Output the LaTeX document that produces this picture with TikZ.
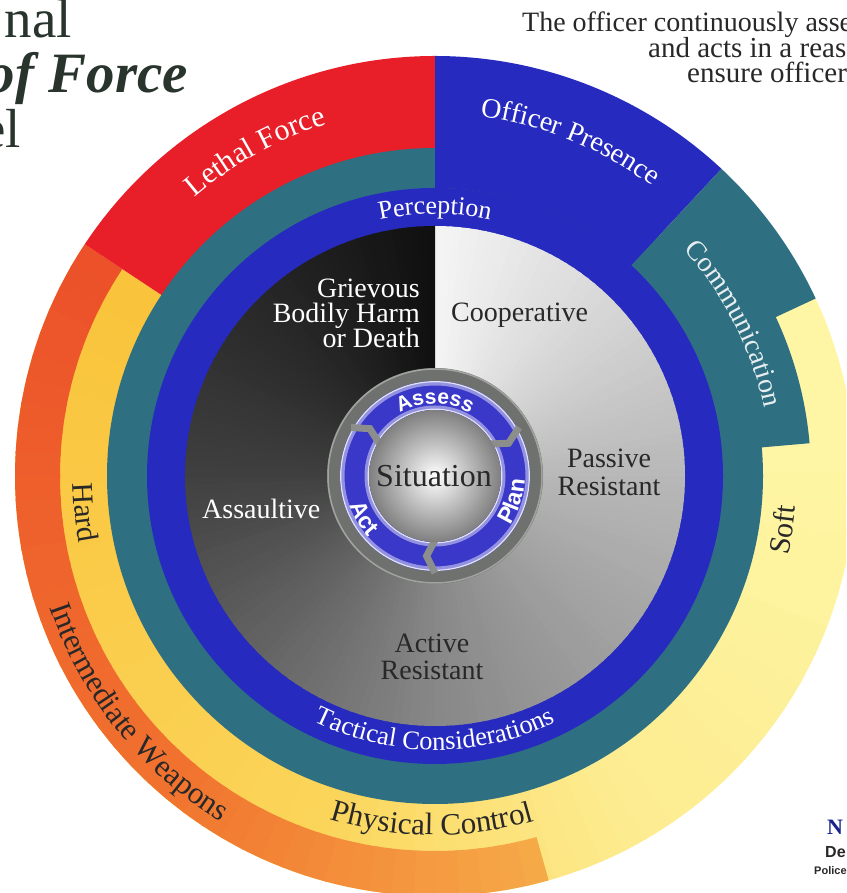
\documentclass[tikz,border=0pt]{standalone}
\usepackage{fontspec}
\setmainfont{Liberation Serif}
\newfontfamily\sansbold{Liberation Sans}
\usetikzlibrary{decorations.text}

\definecolor{ringred}{RGB}{232,30,40}
\definecolor{ringblue}{RGB}{38,42,190}
\definecolor{ringteal}{RGB}{46,112,130}
\definecolor{orA}{RGB}{236,80,42}
\definecolor{orB}{RGB}{241,115,46}
\definecolor{orC}{RGB}{246,170,72}
\definecolor{yeA}{RGB}{249,195,58}
\definecolor{yeB}{RGB}{251,212,88}
\definecolor{yeC}{RGB}{253,236,145}
\definecolor{yeD}{RGB}{254,246,165}
\definecolor{titlegray}{RGB}{40,52,44}
\definecolor{textgray}{RGB}{40,40,40}
\definecolor{navy}{RGB}{25,35,140}
\definecolor{sitblue}{RGB}{58,56,200}
\definecolor{sitgray}{RGB}{110,113,110}
\definecolor{gapgray}{RGB}{140,142,140}
\definecolor{commwhite}{RGB}{232,238,240}
\colorlet{dA}{white!6!black}
\colorlet{dB}{white!25!black}
\colorlet{dC}{white!53!black}
\colorlet{dD}{white!72!black}
\colorlet{dE}{white!96!black}

% annular sector: colour, start angle, end angle, inner r, outer r
\newcommand{\annsec}[5]{%
  \fill[#1] (#2:#5) arc[start angle=#2,end angle=#3,radius=#5] -- (#3:#4)
    arc[start angle=#3,end angle=#2,radius=#4] -- cycle;}
% gradient annular sector
\newcommand{\gradsec}[8]{%
  \foreach \k in {1,...,#7}{%
    \pgfmathsetmacro\gsA{#3+(#4-#3)*(\k-1)/#7}%
    \pgfmathsetmacro\gsB{#3+(#4-#3)*\k/#7+ifthenelse(\k<#7,0.4,#8)}%
    \pgfmathtruncatemacro\gsP{100-100*(\k-0.5)/#7}%
    \annsec{#1!\gsP!#2}{\gsA}{\gsB}{#5}{#6}%
  }}
% gradient pie
\newcommand{\gradpie}[6]{%
  \foreach \k in {1,...,#6}{%
    \pgfmathsetmacro\gsA{#3+(#4-#3)*(\k-1)/#6}%
    \pgfmathsetmacro\gsB{#3+(#4-#3)*\k/#6+0.5}%
    \pgfmathtruncatemacro\gsP{100-100*(\k-0.5)/#6}%
    \fill[#1!\gsP!#2] (0,0) -- (\gsA:#5) arc[start angle=\gsA,end angle=\gsB,radius=#5] -- cycle;
  }}

\tikzset{
  arctext/.style={decorate,decoration={text along path,text align=center,text={#1}}},
  disclabel/.style={inner sep=0pt,font=\fontsize{28}{28}\selectfont},
}

\begin{document}
\begin{tikzpicture}[x=1pt,y=1pt]
\useasboundingbox (0,0) rectangle (846,893);
\clip (0,0) rectangle (846,893);
\fill[white] (0,0) rectangle (846,893);

\begin{scope}[shift={(435,417)}]
  % yellow band (and pale outer zone on the right)
  \gradsec{yeA}{yeB}{146.5}{250}{327}{420}{30}{0.4}
  \gradsec{yeB}{yeC}{250}{300}{327}{420}{15}{0.4}
  \gradsec{yeC}{yeD}{300}{365}{327}{420}{15}{0.4}
  \annsec{yeD}{364.8}{386}{327}{420}
  % orange outer band
  \gradsec{orA}{orB}{146.5}{230}{375}{420}{25}{0.4}
  \gradsec{orB}{orC}{230}{285.7}{375}{420}{18}{0}
  % lethal force
  \annsec{ringred}{90}{146.5}{327}{420}
  % teal ring
  \fill[ringteal] (0,0) circle (328);
  % officer presence
  \annsec{ringblue}{47}{90}{288}{420}
  % communication
  \fill[ringteal] (47:420) arc[start angle=47,end angle=25,radius=420] -- (25:376)
    arc[start angle=25,end angle=5,radius=376] -- (5:288)
    arc[start angle=5,end angle=47,radius=288] -- cycle;
  % perception / tactical ring
  \fill[ringblue] (0,0) circle (288);
  % behaviour disc (conical grey)
  \foreach \ca/\cb/\sa/\sb in {dB/dC/180/270, dC/dD/270/360, dD/dE/360/450, dA/dB/90/180}{
    \gradpie{\ca}{\cb}{\sa}{\sb}{250}{45}
  }

  % central situation emblem
  \fill[sitgray] (0,0) circle (108);
  \draw[white!35!sitgray, line width=1.5] (0,0) circle (107);
  \fill[sitblue] (0,0) circle (95);
  \draw[white!45!sitblue, line width=4] (0,0) circle (92.5);
  \draw[white!45!sitblue, line width=4] (0,0) circle (68.5);
  \draw[white!85!sitblue, line width=1.2] (0,0) circle (94.3);
  \draw[white!85!sitblue, line width=1.2] (0,0) circle (66.8);
  \foreach \g in {30,150,270}{
    \draw[gapgray, line width=7, line join=miter] (\g:97) -- (\g-6:80.5) -- (\g:64);
  }
  \shade[inner color=white, outer color=white!50!black] (0,0) circle (66);

  % ring labels
  \path[arctext={|\fontsize{30}{30}\selectfont\color{white}|Lethal Force}]
    (150:368) arc[start angle=150,end angle=88,radius=368];
  \path[arctext={|\fontsize{28}{28}\selectfont\color{white}|Officer Presence}]
    (100:362) arc[start angle=100,end angle=36,radius=362];
  \path[arctext={|\fontsize{28}{28}\selectfont\color{commwhite}|Communication}]
    (60:336) arc[start angle=60,end angle=-6,radius=336];
  \path[arctext={|\fontsize{26}{26}\selectfont\color{white}|Perception}]
    (130:262) arc[start angle=130,end angle=50,radius=262];
  \path[arctext={|\fontsize{26.5}{26.5}\selectfont\color{white}|Tactical Considerations}]
    (-160:274) arc[start angle=-160,end angle=-20,radius=274];
  \path[arctext={|\fontsize{31}{31}\selectfont\color{textgray}|Physical Control}]
    (-160:359) arc[start angle=-160,end angle=-21,radius=359];
  \path[arctext={|\fontsize{31}{31}\selectfont\color{textgray}|Intermediate Weapons}]
    (160:407) arc[start angle=160,end angle=277,radius=407];
  \path[arctext={|\fontsize{30}{30}\selectfont\color{textgray}|Hard}]
    (150:362) arc[start angle=150,end angle=222,radius=362];
  \path[arctext={|\fontsize{30}{30}\selectfont\color{textgray}|Soft}]
    (-40:362) arc[start angle=-40,end angle=22.4,radius=362];
  \path[arctext={|\sansbold\bfseries\fontsize{21}{21}\selectfont\color{white}|Assess}]
    (150:72) arc[start angle=150,end angle=30,radius=72];
  \path[arctext={|\sansbold\bfseries\fontsize{23}{23}\selectfont\color{white}|Plan}]
    (-60:90) arc[start angle=-60,end angle=24,radius=90];
  \path[arctext={|\sansbold\bfseries\fontsize{23}{23}\selectfont\color{white}|Act}]
    (170:90) arc[start angle=170,end angle=252,radius=90];
\end{scope}

% disc labels
\node[disclabel, text=white, anchor=base east] (grief1) at (420,595) {Grievous};
\node[disclabel, text=white, anchor=base east] (grief2) at (420,570) {Bodily Harm};
\node[disclabel, text=white, anchor=base east] (grief3) at (420,545) {or Death};
\node[disclabel, text=textgray, anchor=base west] (coop) at (451,571) {Cooperative};
\node[disclabel, text=textgray, anchor=base] (pass1) at (609,425) {Passive};
\node[disclabel, text=textgray, anchor=base] (pass2) at (609,397) {Resistant};
\node[disclabel, text=white, anchor=base west] (assault) at (202,374) {Assaultive};
\node[disclabel, text=textgray, anchor=base] (act1) at (432,240) {Active};
\node[disclabel, text=textgray, anchor=base] (act2) at (432,213) {Resistant};
\node[inner sep=0pt, font=\fontsize{32}{32}\selectfont, text=textgray, anchor=base] (sit) at (434,406) {Situation};

% title fragments (cropped)
\node[inner sep=0pt, font=\fontsize{55}{55}\selectfont, text=titlegray, anchor=base east] (t1) at (72,855) {nal};
\node[inner sep=0pt, font=\fontsize{57}{57}\selectfont\bfseries\itshape, text=titlegray, anchor=base east] (t2) at (188,800) {of Force};
\node[inner sep=0pt, font=\fontsize{55}{55}\selectfont, text=titlegray, anchor=base east] (t3) at (21,745) {el};

% statement (cropped)
\node[inner sep=0pt, font=\fontsize{28}{28}\selectfont, text=textgray, anchor=base west] (s1) at (522,861) {The officer continuously asse};
\node[inner sep=0pt, font=\fontsize{29}{29}\selectfont, text=textgray, anchor=base west] (s2) at (648,835) {and acts in a reas};
\node[inner sep=0pt, font=\fontsize{29}{29}\selectfont, text=textgray, anchor=base west] (s3) at (687,810) {ensure officer};

% bottom right (cropped)
\node[inner sep=0pt, font=\fontsize{22}{22}\selectfont\bfseries, text=navy, anchor=base west] (b1) at (827,58) {N};
\node[inner sep=0pt, font=\sansbold\bfseries\fontsize{16}{16}\selectfont, text=textgray, anchor=base west] (b2) at (825,35) {De};
\node[inner sep=0pt, font=\sansbold\bfseries\fontsize{11}{11}\selectfont, text=textgray, anchor=base west] (b3) at (814,18) {Police};
\end{tikzpicture}
\end{document}
